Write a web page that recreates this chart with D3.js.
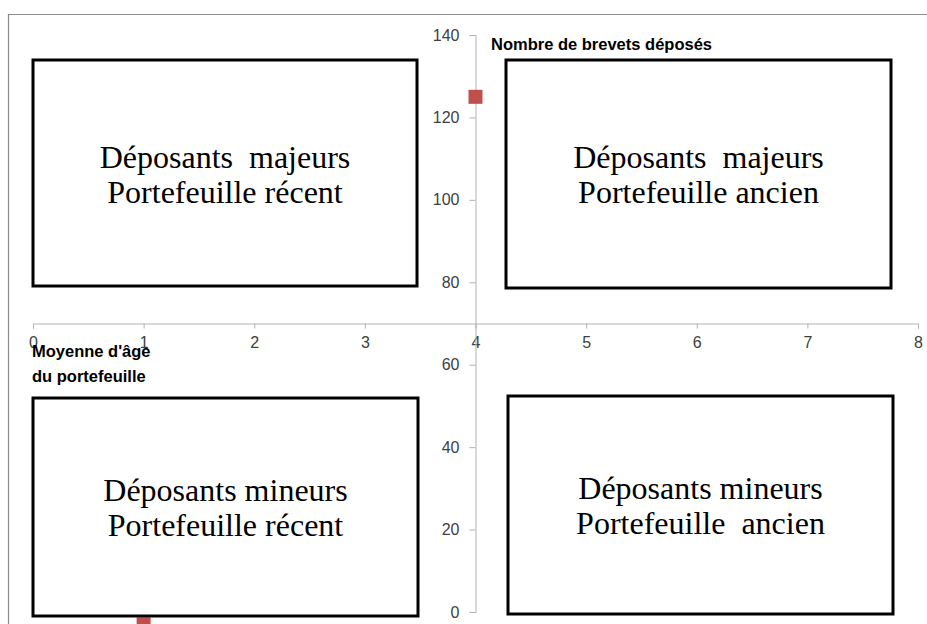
<!DOCTYPE html>
<html><head><meta charset="utf-8">
<script src="https://cdn.jsdelivr.net/npm/d3@7"></script>
<style>body{margin:0;background:#fff}svg{display:block}</style>
</head><body>
<svg id="c" width="927" height="624"></svg>
<script>
// ---- data ----
const xTicks = [0,1,2,3,4,5,6,7,8];
const yTicks = [0,20,40,60,80,100,120,140];
const pointsX = [4, 1];
const pointsY = [125, -3];
const xTitle = ["Moyenne d'âge", "du portefeuille"];
const yTitle = "Nombre de brevets déposés";
const quadrantLine1 = ["Déposants  majeurs", "Déposants  majeurs", "Déposants mineurs", "Déposants mineurs"];
const quadrantLine2 = ["Portefeuille récent", "Portefeuille ancien", "Portefeuille récent", "Portefeuille  ancien"];

const svg = d3.select("#c");
const x = d3.scaleLinear().domain([0,8]).range([33,918]);
const y = d3.scaleLinear().domain([0,140]).range([612,35]);
const xCross = 70, yCross = 4;

// outer chart border
svg.append("path").attr("d","M927,14.5 H8.5 V624").attr("fill","none").attr("stroke","#8c8c8c").attr("stroke-width",1.2);

const axisColor = "#b3b3b3";
const labelColor = "#404040";
// x axis
const gx = svg.append("g").attr("transform",`translate(0,${y(xCross)})`)
  .call(d3.axisBottom(x).tickValues(xTicks).tickSize(5).tickPadding(8).tickFormat(d3.format("d")));
// y axis
const gy = svg.append("g").attr("transform",`translate(${x(yCross)},0)`)
  .call(d3.axisLeft(y).tickValues(yTicks).tickSize(6).tickPadding(10).tickFormat(d3.format("d")));
[gx,gy].forEach(g=>{
  g.select(".domain").attr("stroke",axisColor);
  g.selectAll(".tick line").attr("stroke",axisColor);
  g.selectAll(".tick text").attr("fill",labelColor).style("font-family","'Liberation Sans', Arial, sans-serif").style("font-size","16px");
});

// points
svg.append("g").selectAll("rect").data(pointsX.map((d,i)=>[d,pointsY[i]])).join("rect")
  .attr("x",d=>x(d[0])-7).attr("y",d=>y(d[1])-7).attr("width",14).attr("height",14)
  .attr("fill","#c0504d");

// quadrant boxes
const boxes = [
  {x0:33,x1:417,y0:60,y1:286},
  {x0:506,x1:891,y0:60,y1:288},
  {x0:33,x1:418,y0:398,y1:616},
  {x0:508,x1:893,y0:396,y1:614}
];
const bg = svg.append("g").selectAll("g").data(boxes).join("g");
bg.append("rect").attr("x",d=>d.x0).attr("y",d=>d.y0).attr("width",d=>d.x1-d.x0).attr("height",d=>d.y1-d.y0)
  .attr("fill","#fff").attr("stroke","#000").attr("stroke-width",3);
const lineY1 = [168,168,501,499];
bg.append("text").attr("x",d=>(d.x0+d.x1)/2).attr("y",(d,i)=>lineY1[i])
  .attr("text-anchor","middle").style("font-family","'Liberation Serif','Times New Roman',serif").style("font-size","32px")
  .style("white-space","pre").attr("fill","#000").text((d,i)=>quadrantLine1[i]);
bg.append("text").attr("x",d=>(d.x0+d.x1)/2).attr("y",(d,i)=>lineY1[i]+35)
  .attr("text-anchor","middle").style("font-family","'Liberation Serif','Times New Roman',serif").style("font-size","32px")
  .style("white-space","pre").attr("fill","#000").text((d,i)=>quadrantLine2[i]);

// axis titles
svg.append("text").attr("x",491).attr("y",50).style("font-family","'Liberation Sans',Arial,sans-serif")
  .style("font-size","16.5px").style("font-weight","bold").attr("fill","#000").text(yTitle);
svg.append("g").selectAll("text").data(xTitle).join("text").attr("x",32).attr("y",(d,i)=>357+i*25)
  .style("font-family","'Liberation Sans',Arial,sans-serif").style("font-size","16.5px").style("font-weight","bold")
  .attr("fill","#000").text(d=>d);
</script>
</body></html>
